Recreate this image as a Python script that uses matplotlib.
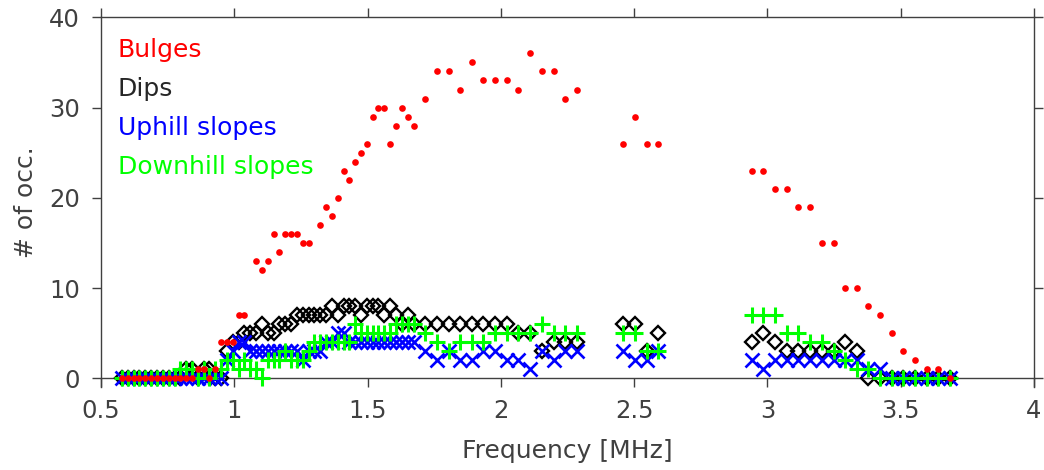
import matplotlib
matplotlib.use("Agg")
import matplotlib.pyplot as plt

nan = float("nan")

# Frequency bins [MHz]
freq_mhz = [
    0.579, 0.601, 0.623, 0.644, 0.666, 0.688, 0.710, 0.732, 0.754, 0.776,
    0.798, 0.819, 0.841, 0.863, 0.885, 0.907, 0.929, 0.951, 0.973, 0.994,
    1.016, 1.038, 1.060, 1.082, 1.104, 1.126, 1.148, 1.169, 1.191, 1.213,
    1.235, 1.257, 1.279, 1.301, 1.323, 1.344, 1.366, 1.388, 1.410, 1.432,
    1.454, 1.476, 1.498, 1.519, 1.541, 1.563, 1.585, 1.607, 1.629, 1.651,
    1.673,
    1.716, 1.760, 1.804, 1.848, 1.891, 1.935, 1.979, 2.023, 2.066, 2.110,
    2.154, 2.198, 2.241, 2.285,
    2.460, 2.504, 2.548, 2.591,
    2.941, 2.985, 3.029, 3.073, 3.116, 3.160, 3.204, 3.248, 3.291, 3.335,
    3.379, 3.423, 3.466, 3.510, 3.554, 3.598, 3.641, 3.685,
]

# Occurrence counts per frequency bin
bulges = [
    0, 0, 0, 0, 0, 0, 0, 0, 0, 0,
    0, 0, 0, 1, 1, 0, 1,
    4, 4, 4, 7, 7, nan,
    13, 12, 13, 16, 14, 16, 16, 16, 15, 15,
    nan, 17, 19, 18, 20, 23, 22, 24, 25, 26,
    29, 30, 30, 26, 28, 30, 29, 28,
    31, 34, 34, 32, 35, 33, 33, 33, 32, 36, 34, 34, 31, 32,
    26, 29, 26, 26,
    23, 23, 21, 21, 19, 19, 15, 15, 10, 10, 8, 7, 5, 3, 2, 1, 1, 0,
]
dips = [
    0, 0, 0, 0, 0, 0, 0, 0, 0, 0, 0,
    1, 1, 0, 1, 1, 0, 0,
    3, 4, 4, 5, 5, 5, 6, 5, 5, 6,
    6, 6, 7, 7, 7, 7, 7, 7, 8, 7,
    8, 8, 8, 7, 8, 8, 8, 7, 8, 7, 6, 7, 6,
    6, 6, 6, 6, 6, 6, 6, 6, 5, 5, 3, 4, 4, 4,
    6, 6, 3, 5,
    4, 5, 4, 3, 3, 3, 3, 3, 4, 3, 0, 0, 0, 0, 0, 0, 0, 0,
]
uphill = [
    0, 0, 0, 0, 0, 0, 0, 0, 0, 0, 0, 0, 0, 0, 0, 0, 0, 0,
    2, 3, 4, 4, 3, 3, 3, 3, 3, 3,
    3, 3, 3, 2, 3, 3, 3, 4, 4, 5,
    5, 4, 4, 4, 4, 4, 4, 4, 4, 4, 4, 4, 4,
    3, 2, 3, 2, 2, 3, 3, 2, 2, 1, 3, 2, 3, 3,
    3, 2, 2, 3,
    2, 1, 2, 2, 2, 2, 2, 2, 2, 2, 1, 1, 0, 0, 0, 0, 0, 0,
]
downhill = [
    0, 0, 0, 0, 0, 0, 0, 0, 0, 0,
    1, 1, 1, 0, 1, 0, 1, 1,
    2, 2, 1, 2, 1, 1, 0, 2, 2, 2,
    3, 2, 2, 2, 3, 4, 4, 4, 4, 4,
    4, 4, 6, 5, 5, 5, 5, 5, 5, 6, 6, 6, 6,
    5, 4, 3, 4, 4, 4, 5, 5, 5, 5, 6, 5, 5, 5,
    5, 5, 3, 3,
    7, 7, 7, 5, 5, 4, 4, 3, 2, 1, 1, 0, 0, 0, 0, 0, 0, 0,
]

labels = ["Bulges", "Dips", "Uphill slopes", "Downhill slopes"]
colors = ["#ff0000", "#262626", "#0000ff", "#00ff00"]
axis_gray = "#404040"

plt.rcParams["font.family"] = ["DejaVu Sans"]

fig = plt.figure(figsize=(10.44, 4.70), dpi=100)
ax = fig.add_axes([0.0967, 0.1772, 0.8937, 0.786])

h_dips, = ax.plot(freq_mhz, dips, ls="none", marker="D", ms=7.6, mfc="none",
                  mec="black", mew=1.7, zorder=3, clip_on=False)
h_up, = ax.plot(freq_mhz, uphill, ls="none", marker="x", ms=10, mec="#0000ff",
                mew=1.9, zorder=4, clip_on=False)
h_down, = ax.plot(freq_mhz, downhill, ls="none", marker="+", ms=11,
                  mec="#00ff00", mew=2.2, zorder=5, clip_on=False)
h_bulge, = ax.plot(freq_mhz, bulges, ls="none", marker="o", ms=4.8,
                   mfc="#ff0000", mec="none", zorder=6, clip_on=False)

ax.set_xlim(0.5, 4)
ax.set_ylim(-0.93, 40)
ax.set_xticks([0.5, 1, 1.5, 2, 2.5, 3, 3.5, 4])
ax.set_xticklabels(["0.5", "1", "1.5", "2", "2.5", "3", "3.5", "4"])
ax.set_yticks([0, 10, 20, 30, 40])

ax.spines["bottom"].set_position(("data", 0))
for sp in ax.spines.values():
    sp.set_color(axis_gray)
    sp.set_linewidth(1.0)

ax.tick_params(direction="out", length=6.2, width=1.0, color=axis_gray,
               labelsize=17.5, labelcolor=axis_gray, pad=9,
               top=True, right=True)

ax.set_xlabel("Frequency [MHz]", fontsize=18, color=axis_gray)
ax.xaxis.set_label_coords(0.5, -0.141)
ax.set_ylabel("# of occ.", fontsize=18, color=axis_gray)
ax.yaxis.set_label_coords(-0.068, 0.5)

leg = ax.legend([h_bulge, h_dips, h_up, h_down], labels, loc="upper left",
                bbox_to_anchor=(0.018, 0.945), frameon=False, handlelength=0,
                handletextpad=0, fontsize=18, labelspacing=0.6,
                borderaxespad=0, borderpad=0, labelcolor=colors)
for h in leg.legend_handles:
    h.set_visible(False)

fig.savefig("out.png", dpi=100)
